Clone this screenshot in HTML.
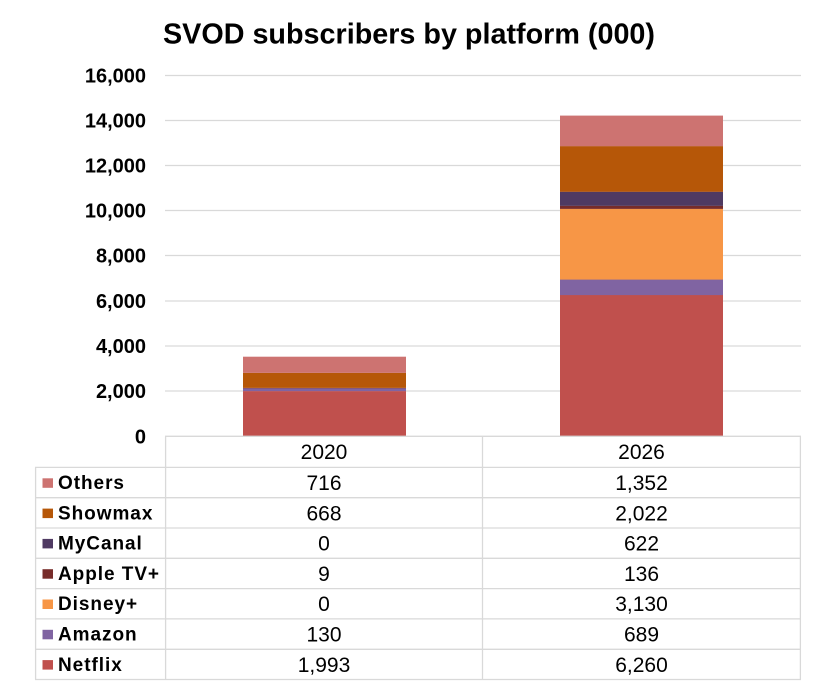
<!DOCTYPE html>
<html>
<head>
<meta charset="utf-8">
<style>
  html, body { margin: 0; padding: 0; background: #ffffff; }
  body { width: 824px; height: 690px; overflow: hidden; }
  svg { display: block; font-family: "Liberation Sans", Arial, sans-serif; }
</style>
</head>
<body>
<svg width="824" height="690" viewBox="0 0 824 690" xmlns="http://www.w3.org/2000/svg">
  <rect x="0" y="0" width="824" height="690" fill="#ffffff"/>

  <!-- Title -->
  <text x="163" y="43.5" font-size="29" font-weight="bold" fill="#000" textLength="492" lengthAdjust="spacingAndGlyphs">SVOD subscribers by platform (000)</text>

  <!-- Gridlines -->
  <g stroke="#d9d9d9" stroke-width="1.3">
    <line x1="165" y1="75.5" x2="801" y2="75.5"/>
    <line x1="165" y1="120.5" x2="801" y2="120.5"/>
    <line x1="165" y1="165.5" x2="801" y2="165.5"/>
    <line x1="165" y1="210.5" x2="801" y2="210.5"/>
    <line x1="165" y1="255.5" x2="801" y2="255.5"/>
    <line x1="165" y1="301" x2="801" y2="301"/>
    <line x1="165" y1="346" x2="801" y2="346"/>
    <line x1="165" y1="391" x2="801" y2="391"/>
  </g>

  <!-- Y axis labels -->
  <g font-size="20" font-weight="bold" fill="#000" text-anchor="end">
    <text x="146" y="82.5">16,000</text>
    <text x="146" y="127.5">14,000</text>
    <text x="146" y="172.5">12,000</text>
    <text x="146" y="217.5">10,000</text>
    <text x="146" y="262.5">8,000</text>
    <text x="146" y="308">6,000</text>
    <text x="146" y="353">4,000</text>
    <text x="146" y="398">2,000</text>
    <text x="146" y="443.3">0</text>
  </g>

  <!-- Bars 2020 -->
  <g>
    <rect x="243" y="391.1" width="163" height="44.9" fill="#C0504D"/>
    <rect x="243" y="388.1" width="163" height="3.0" fill="#8064A2"/>
    <rect x="243" y="387.9" width="163" height="0.4" fill="#772C2A"/>
    <rect x="243" y="372.9" width="163" height="15.0" fill="#B65708"/>
    <rect x="243" y="356.7" width="163" height="16.2" fill="#CD7371"/>
  </g>

  <!-- Bars 2026 -->
  <g>
    <rect x="560" y="294.9" width="163" height="141.1" fill="#C0504D"/>
    <rect x="560" y="279.5" width="163" height="15.6" fill="#8064A2"/>
    <rect x="560" y="208.8" width="163" height="70.8" fill="#F79646"/>
    <rect x="560" y="205.7" width="163" height="3.2" fill="#772C2A"/>
    <rect x="560" y="191.7" width="163" height="14.1" fill="#4F3A62"/>
    <rect x="560" y="146.1" width="163" height="45.7" fill="#B65708"/>
    <rect x="560" y="115.6" width="163" height="30.6" fill="#CD7371"/>
  </g>

  <!-- Table lines -->
  <g stroke="#d9d9d9" stroke-width="1.3" fill="none">
    <line x1="165" y1="436.3" x2="801" y2="436.3"/>
    <line x1="35" y1="467.4" x2="801" y2="467.4"/>
    <line x1="35" y1="497.7" x2="801" y2="497.7"/>
    <line x1="35" y1="528" x2="801" y2="528"/>
    <line x1="35" y1="558.3" x2="801" y2="558.3"/>
    <line x1="35" y1="588.6" x2="801" y2="588.6"/>
    <line x1="35" y1="618.9" x2="801" y2="618.9"/>
    <line x1="35" y1="649.3" x2="801" y2="649.3"/>
    <line x1="35" y1="679.5" x2="801" y2="679.5"/>
    <line x1="35.6" y1="467.4" x2="35.6" y2="679.5"/>
    <line x1="165.6" y1="436.3" x2="165.6" y2="679.5"/>
    <line x1="482.5" y1="436.3" x2="482.5" y2="679.5"/>
    <line x1="800.4" y1="436.3" x2="800.4" y2="679.5"/>
  </g>

  <!-- Header -->
  <g font-size="21" fill="#000" text-anchor="middle">
    <text x="324" y="459.2">2020</text>
    <text x="641.5" y="459.2">2026</text>
  </g>

  <!-- Legend swatches -->
  <g>
    <rect x="42.5" y="478.3" width="10.5" height="9.5" fill="#CD7371"/>
    <rect x="42.5" y="508.6" width="10.5" height="9.5" fill="#B65708"/>
    <rect x="42.5" y="538.9" width="10.5" height="9.5" fill="#4F3A62"/>
    <rect x="42.5" y="569.2" width="10.5" height="9.5" fill="#772C2A"/>
    <rect x="42.5" y="599.5" width="10.5" height="9.5" fill="#F79646"/>
    <rect x="42.5" y="629.8" width="10.5" height="9.5" fill="#8064A2"/>
    <rect x="42.5" y="660.1" width="10.5" height="9.5" fill="#C0504D"/>
  </g>

  <!-- Legend labels -->
  <g font-size="19" font-weight="bold" fill="#000" letter-spacing="0.95">
    <text x="58" y="489">Others</text>
    <text x="58" y="519.3">Showmax</text>
    <text x="58" y="549.6">MyCanal</text>
    <text x="58" y="579.9">Apple TV+</text>
    <text x="58" y="610.2">Disney+</text>
    <text x="58" y="640.5">Amazon</text>
    <text x="58" y="670.8">Netflix</text>
  </g>

  <!-- Values 2020 -->
  <g font-size="21" fill="#000" text-anchor="middle">
    <text x="324" y="490">716</text>
    <text x="324" y="520.3">668</text>
    <text x="324" y="550.6">0</text>
    <text x="324" y="580.9">9</text>
    <text x="324" y="611.2">0</text>
    <text x="324" y="641.5">130</text>
    <text x="324" y="671.8">1,993</text>
  </g>

  <!-- Values 2026 -->
  <g font-size="21" fill="#000" text-anchor="middle">
    <text x="641.5" y="490">1,352</text>
    <text x="641.5" y="520.3">2,022</text>
    <text x="641.5" y="550.6">622</text>
    <text x="641.5" y="580.9">136</text>
    <text x="641.5" y="611.2">3,130</text>
    <text x="641.5" y="641.5">689</text>
    <text x="641.5" y="671.8">6,260</text>
  </g>
</svg>
</body>
</html>
